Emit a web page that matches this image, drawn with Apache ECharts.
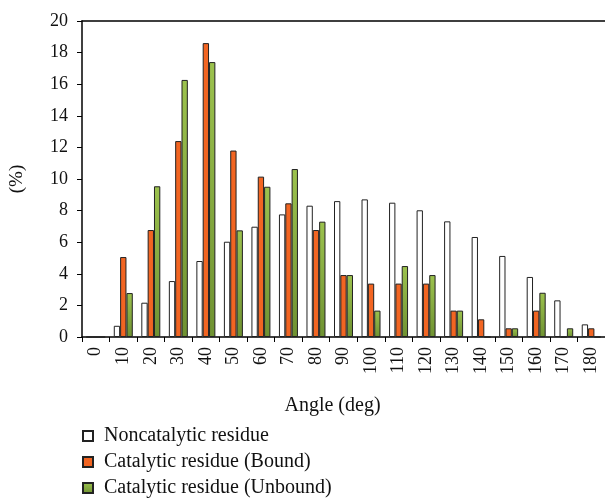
<!DOCTYPE html>
<html>
<head>
<meta charset="utf-8">
<script src="https://cdn.jsdelivr.net/npm/echarts@6/dist/echarts.min.js"></script>
<style>html,body{margin:0;padding:0;background:#fff}#c{width:605px;height:500px}</style>
</head>
<body>
<div id="c"></div>
<script>
var categories = ['0','10','20','30','40','50','60','70','80','90','100','110','120','130','140','150','160','170','180'];
var noncatalytic = [0,0.71,2.17,3.54,4.81,6.03,6.98,7.76,8.31,8.6,8.71,8.5,8.02,7.32,6.33,5.13,3.8,2.32,0.8];
var bound = [0,5.06,6.77,12.4,18.6,11.8,10.15,8.46,6.77,3.92,3.38,3.38,3.38,1.67,1.12,0.55,1.67,0,0.55];
var unbound = [0,2.78,9.54,16.27,17.4,6.75,9.51,10.63,7.3,3.92,1.67,4.49,3.92,1.67,0,0.55,2.8,0.55,0];
var yTicks = [0,2,4,6,8,10,12,14,16,18,20];
var seriesNames = ['Noncatalytic residue','Catalytic residue (Bound)','Catalytic residue (Unbound)'];

var font = 'Liberation Serif';
var chart = echarts.init(document.getElementById('c'), null, {renderer:'canvas'});
var greenGrad = new echarts.graphic.LinearGradient(0,0,0,1,[{offset:0,color:'#9cc24e'},{offset:1,color:'#6f9232'}]);
function mkLegend(i, top){
  return {orient:'vertical', left:82, top:top, itemWidth:10, itemHeight:10, itemGap:0,
    icon:'rect', padding:0,
    textStyle:{fontFamily:font, fontSize:20, color:'#111', padding:[0,0,0,6]},
    data:[seriesNames[i]]};
}
chart.setOption({
  animation:false,
  grid:{left:82, top:21, right:0, bottom:163, containLabel:false},
  textStyle:{fontFamily:font},
  legend:[mkLegend(0,426), mkLegend(1,452), mkLegend(2,478)],
  xAxis:[{
    type:'category', data:categories, boundaryGap:true,
    name:'Angle (deg)', nameLocation:'middle', nameGap:59,
    nameTextStyle:{fontFamily:font, fontSize:20, color:'#111', padding:[0,22,0,0]},
    axisLine:{lineStyle:{color:'#000', width:1.5}},
    axisTick:{show:true, alignWithLabel:false, length:5, lineStyle:{color:'#000'}},
    axisLabel:{rotate:90, margin:10, fontFamily:font, fontSize:18, color:'#111', interval:0}
  },{
    type:'category', data:categories, position:'top',
    axisLine:{show:true, lineStyle:{color:'#000', width:1.5}},
    axisTick:{show:false}, axisLabel:{show:false}
  }],
  yAxis:{
    type:'value', min:0, max:20, interval:2,
    name:'(%)', nameLocation:'middle', nameGap:55, nameRotate:90,
    nameTextStyle:{fontFamily:font, fontSize:19, color:'#111'},
    axisLine:{show:true, lineStyle:{color:'#000', width:1.5}},
    axisTick:{show:true, inside:false, length:5, lineStyle:{color:'#000'}},
    axisLabel:{margin:14, fontFamily:font, fontSize:18, color:'#111',
      formatter:function(v){return yTicks.indexOf(v)>=0 ? String(v) : '';}},
    splitLine:{show:false}
  },
  series:[
    {name:seriesNames[0], type:'bar', data:noncatalytic, barGap:'0%', barCategoryGap:'31%',
     itemStyle:{color:'#ffffff', borderColor:'#222', borderWidth:1}},
    {name:seriesNames[1], type:'bar', data:bound, barGap:'0%', barCategoryGap:'31%',
     itemStyle:{color:'#f26522', borderColor:'#222', borderWidth:1}},
    {name:seriesNames[2], type:'bar', data:unbound, barGap:'0%', barCategoryGap:'31%',
     itemStyle:{color:greenGrad, borderColor:'#222', borderWidth:1}}
  ]
});
</script>
</body>
</html>
